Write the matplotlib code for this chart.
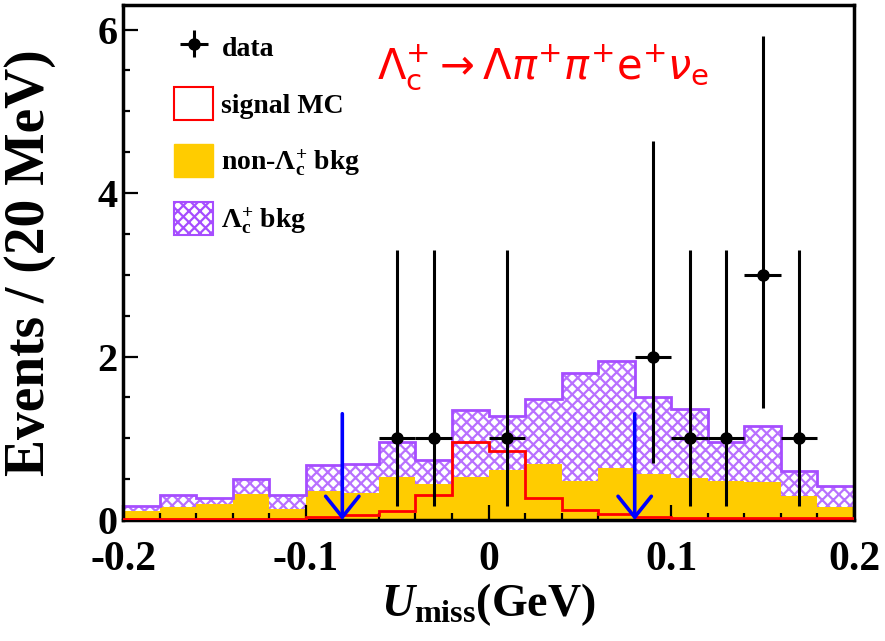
import numpy as np
import matplotlib
matplotlib.use("Agg")
import matplotlib.pyplot as plt
from matplotlib.patches import Patch

plt.rcParams["font.family"] = "Liberation Serif"
plt.rcParams["mathtext.fontset"] = "custom"
plt.rcParams["mathtext.rm"] = "Liberation Serif:bold"
plt.rcParams["mathtext.bf"] = "Liberation Serif:bold"
plt.rcParams["mathtext.it"] = "Liberation Serif:italic:bold"
plt.rcParams["hatch.linewidth"] = 1.6

# U_miss binning: 20 bins of 20 MeV
edges = np.linspace(-0.2, 0.2, 21)

# MC components per bin (events / 20 MeV)
signal_mc = [0.01, 0.01, 0.01, 0.01, 0.01, 0.04, 0.06, 0.11, 0.31, 0.95,
             0.84, 0.27, 0.12, 0.07, 0.04, 0.02, 0.02, 0.02, 0.02, 0.02]
non_lc_bkg = [0.11, 0.16, 0.19, 0.32, 0.14, 0.36, 0.33, 0.53, 0.44, 0.53,
              0.61, 0.69, 0.48, 0.64, 0.56, 0.51, 0.48, 0.46, 0.29, 0.16]
lc_bkg = [0.06, 0.15, 0.08, 0.18, 0.16, 0.31, 0.36, 0.42, 0.30, 0.82,
          0.66, 0.79, 1.32, 1.31, 0.94, 0.85, 0.47, 0.69, 0.31, 0.26]

# data points (bin centres, counts, asymmetric Poisson errors)
data_x = [-0.05, -0.03, 0.01, 0.09, 0.11, 0.13, 0.15, 0.17]
data_n = [1, 1, 1, 2, 1, 1, 3, 1]
data_err_lo = [0.83, 0.83, 0.83, 1.30, 0.83, 0.83, 1.63, 0.83]
data_err_hi = [2.30, 2.30, 2.30, 2.64, 2.30, 2.30, 2.92, 2.30]

# signal region boundaries
cut_x = [-0.08, 0.08]
cut_top = 1.3

yellow = "#ffcc00"
purple = "#a64dff"
purple_hatch = "#b870ff"

fig = plt.figure(figsize=(8.85, 6.41), dpi=100)
ax = fig.add_axes([123 / 885, 1 - 520 / 641, (854 - 123) / 885, (520 - 5) / 641])

non_lc = np.array(non_lc_bkg)
total = non_lc + np.array(lc_bkg)

ax.stairs(non_lc, edges, baseline=0, fill=True, facecolor=yellow, edgecolor=yellow, lw=0, zorder=1)
ax.stairs(total, edges, baseline=non_lc, fill=True, facecolor="white",
          edgecolor=purple_hatch, hatch="xxx", lw=0, zorder=1)
ax.stairs(total, edges, baseline=0, color=purple, lw=2.0, zorder=2)
ax.stairs(signal_mc, edges, baseline=0, color="red", lw=2.0, zorder=3)

for x in cut_x:
    ax.annotate("", xy=(x, 0), xytext=(x, cut_top),
                arrowprops=dict(arrowstyle="->,head_length=0.75,head_width=0.6",
                                color="blue", lw=2.6, mutation_scale=20,
                                shrinkA=0, shrinkB=0), zorder=5)

eb = ax.errorbar(data_x, data_n, xerr=0.01, yerr=[data_err_lo, data_err_hi],
                 fmt="o", color="black", ms=8, lw=2.2, capsize=0, zorder=6)

ax.set_xlim(-0.2, 0.2)
ax.set_ylim(0, 6.3)
ax.set_xticks([-0.2, -0.1, 0, 0.1, 0.2])
ax.set_xticklabels(["-0.2", "-0.1", "0", "0.1", "0.2"])
ax.set_xticks(edges, minor=True)
ax.set_yticks([0, 2, 4, 6])
ax.set_yticks(np.arange(0, 6.3, 0.5), minor=True)
ax.tick_params(which="both", direction="in", top=False, right=False, width=1.6)
ax.tick_params(which="major", length=11, labelsize=30)
ax.tick_params(axis="x", which="major", pad=15)
ax.tick_params(axis="y", which="major", labelsize=29, pad=4)
ax.tick_params(which="minor", length=5)
plt.setp(ax.get_xticklabels() + ax.get_yticklabels(), fontweight="bold")
for s in ax.spines.values():
    s.set_linewidth(2.5)

ax.set_ylabel("Events / (20 MeV)", fontsize=40, fontweight="bold", labelpad=30)
ax.set_xlabel(r"$U_{\mathrm{miss}}\mathrm{(GeV)}$", fontsize=33, labelpad=2)

ax.text(0.347, 0.858,
        r"$\Lambda_{\mathrm{c}}^{+}\rightarrow\Lambda\pi^{+}\pi^{+}\mathrm{e}^{+}\nu_{\mathrm{e}}$",
        transform=ax.transAxes, color="red", fontsize=30,
        va="baseline", math_fontfamily="dejavusans")

handles = [
    eb,
    Patch(facecolor="white", edgecolor="red", lw=1.5),
    Patch(facecolor=yellow, edgecolor=yellow),
    Patch(facecolor="white", edgecolor=purple, hatch="xxx", lw=1.5),
]
labels = ["data", "signal MC", r"non-$\Lambda_{\mathrm{c}}^{+}$ bkg", r"$\Lambda_{\mathrm{c}}^{+}$ bkg"]
ax.legend(handles, labels, loc="upper left", bbox_to_anchor=(0.07, 0.95),
          frameon=False, prop={"size": 20, "weight": "bold"}, handlelength=1.4,
          handleheight=1.45, handletextpad=0.3, labelspacing=0.85,
          borderpad=0, borderaxespad=0)

fig.savefig("out.png", dpi=100)
